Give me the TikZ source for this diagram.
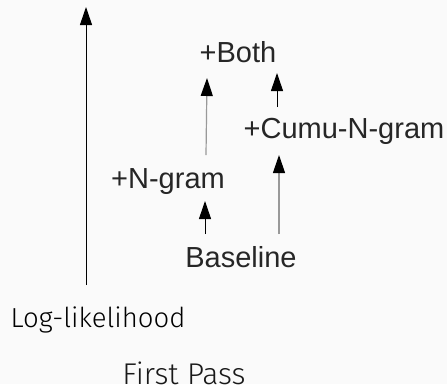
\documentclass[tikz,border=0pt]{standalone}
\usepackage{fontspec}
\setmainfont{Liberation Sans}
\newfontfamily\firal{Fira Sans Light}
\usetikzlibrary{arrows.meta}
\begin{document}
\begin{tikzpicture}[x=1pt,y=-1pt,
  lbl/.style={inner sep=0pt,font=\fontsize{29}{32}\selectfont,text=black!85},
  arr/.style={line width=1pt,-{Triangle[width=12pt,length=18pt]}},
  garr/.style={line width=1.2pt,draw=black!40,-{Triangle[width=12pt,length=18pt,color=black]}}]
\fill[black!2] (0,0) rectangle (447,384);
\useasboundingbox (0,0) rectangle (447,384);
\node[lbl] (both) at (238,52) {+Both};
\node[lbl] (cumu) at (344,131) {+Cumu-N-gram};
\node[lbl] (ngram) at (168,182) {+N-gram};
\node[lbl] (base) at (241,257) {Baseline};
\node[inner sep=0pt,font=\firal\fontsize{27.5}{30}\selectfont,text=black] (loglik) at (98,320) {Log-likelihood};
\node[inner sep=0pt,font=\firal\fontsize{30}{34}\selectfont,text=black!90] (first) at (184,373) {First Pass};
\coordinate (axb) at (86,285);
\coordinate (axt) at (86,7);
\draw[arr] (axb) -- (axt);
\coordinate (a1s) at (205,234); \coordinate (a1e) at (205,201);
\draw[arr] (a1s) -- (a1e);
\coordinate (a2s) at (279,234); \coordinate (a2e) at (279,155);
\draw[garr] (a2s) -- (a2e);
\coordinate (a3s) at (206,155); \coordinate (a3e) at (207,78);
\draw[garr] (a3s) -- (a3e);
\coordinate (a4s) at (277,107); \coordinate (a4e) at (277,73);
\draw[arr] (a4s) -- (a4e);
\end{tikzpicture}
\end{document}
